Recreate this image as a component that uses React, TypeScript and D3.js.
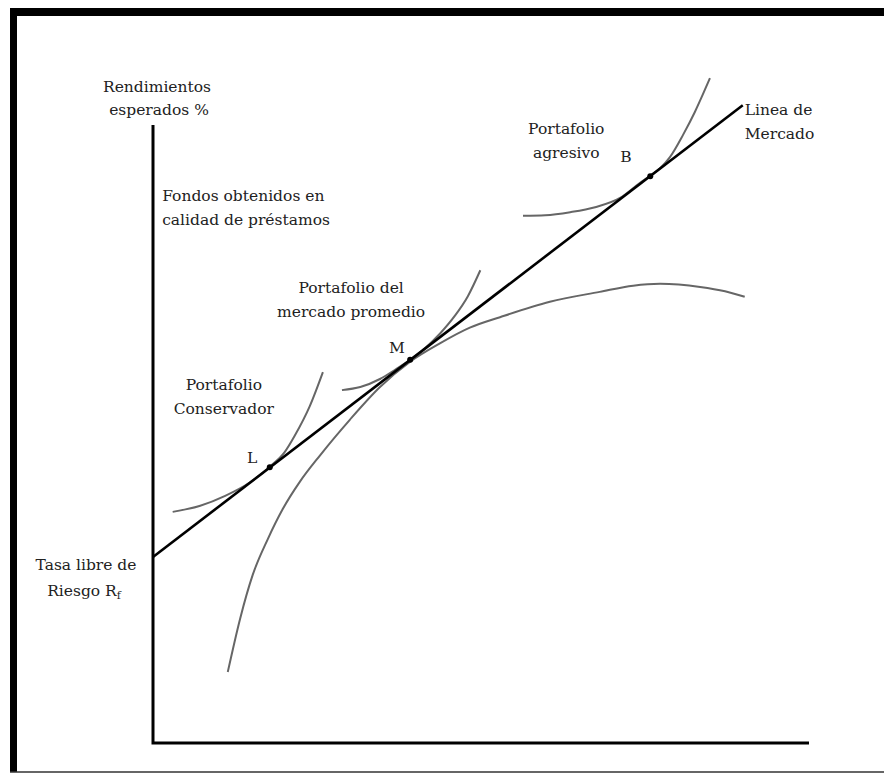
import * as d3 from 'd3'

// Línea de mercado de capitales: rendimiento esperado vs riesgo (unidades arbitrarias 0-100)
const marketLine: [number, number][] = [
  [0, 30.1],
  [89.9, 103.2],
]

// frontera eficiente (curva cóncava, tangente en M)
const frontier: [number, number][] = [
  [11.4, 11.5], [13.3, 20.2], [15.2, 27.2], [17.5, 33.0], [19.8, 37.9],
  [22.4, 42.3], [25.5, 46.6], [30.0, 52.3], [34.6, 57.6], [39.2, 61.7],
  [43.8, 64.7], [48.3, 67.2], [52.9, 68.9], [60.5, 71.4], [68.1, 73.0],
  [73.2, 74.0], [77.3, 74.3], [83.4, 73.8], [87.2, 73.1], [90.2, 72.2],
]

// curvas de indiferencia
const curveL: [number, number][] = [
  [3.0, 37.4], [7.2, 38.4], [11.0, 40.0], [14.8, 42.2], [17.8, 44.7],
  [20.1, 47.1], [21.6, 49.7], [23.9, 54.5], [25.9, 60.0],
]
const curveM: [number, number][] = [
  [28.8, 57.1], [31.6, 57.6], [34.6, 58.9], [36.9, 60.4], [39.2, 62.0],
  [41.5, 63.9], [43.8, 66.3], [46.0, 69.1], [48.0, 72.3], [49.9, 76.5],
]
const curveB: [number, number][] = [
  [56.4, 85.3], [59.8, 85.4], [63.6, 85.9], [67.4, 86.7], [71.2, 88.2],
  [74.2, 90.6], [75.8, 91.8], [77.3, 93.0], [78.8, 94.8], [80.8, 98.4],
  [82.6, 102.1], [83.8, 104.9], [84.9, 107.6],
]

// puntos de tangencia
const tangentPoints: { name: string; x: number; y: number }[] = [
  { name: 'L', x: 17.8, y: 44.6 },
  { name: 'M', x: 39.2, y: 62.0 },
  { name: 'B', x: 75.8, y: 91.7 },
]

// etiquetas (x, y en unidades del gráfico; anchor)
const labels: { lines: string[]; x: number; y: number; anchor: string }[] = [
  { lines: ['Fondos obtenidos en', 'calidad de préstamos'], x: 1.4, y: 87.7, anchor: 'start' },
  { lines: ['Portafolio', 'agresivo'], x: 63.0, y: 98.5, anchor: 'middle' },
  { lines: ['Linea de', 'Mercado'], x: 90.2, y: 101.6, anchor: 'start' },
  { lines: ['Portafolio del', 'mercado promedio'], x: 30.2, y: 72.8, anchor: 'middle' },
  { lines: ['Portafolio', 'Conservador'], x: 10.8, y: 57.1, anchor: 'middle' },
  { lines: ['L'], x: 15.1, y: 45.3, anchor: 'middle' },
  { lines: ['M'], x: 37.2, y: 63.1, anchor: 'middle' },
  { lines: ['B'], x: 72.1, y: 94.0, anchor: 'middle' },
]

const W = 884
const H = 774
const margin = { top: 125, right: 75, bottom: 31, left: 153 }
const font = '"DejaVu Serif", "Liberation Serif", serif'

export default function App() {
  const x = d3.scaleLinear().domain([0, 100]).range([margin.left, W - margin.right])
  const y = d3.scaleLinear().domain([0, 100]).range([H - margin.bottom, margin.top])

  const smooth = d3
    .line<[number, number]>()
    .x((d) => x(d[0]))
    .y((d) => y(d[1]))
    .curve(d3.curveMonotoneX)
  const straight = d3
    .line<[number, number]>()
    .x((d) => x(d[0]))
    .y((d) => y(d[1]))

  const x0 = x(0)
  const y0 = y(0)
  const yRf = y(marketLine[0][1])

  return (
    <svg
      width={W}
      height={H}
      style={{ position: 'absolute', left: 0, top: 0, background: '#fff' }}
      fontFamily={font}
      fontSize={15.5}
    >
      {/* marco */}
      <rect x={10} y={8} width={W - 10} height={8} fill="#000" />
      <rect x={10} y={8} width={7} height={764} fill="#000" />
      <line x1={10} x2={W} y1={772} y2={772} stroke="#333" strokeWidth={1.5} />

      {/* ejes */}
      <path
        d={`M${x0},${y(100)}V${y0}H${x(100)}`}
        fill="none"
        stroke="#000"
        strokeWidth={3}
      />

      {/* curvas */}
      {[frontier, curveL, curveM, curveB].map((c, i) => (
        <path key={i} d={smooth(c) ?? ''} fill="none" stroke="#666" strokeWidth={2} />
      ))}
      <path d={straight(marketLine) ?? ''} fill="none" stroke="#000" strokeWidth={2.6} />
      {tangentPoints.map((p) => (
        <circle key={p.name} cx={x(p.x)} cy={y(p.y)} r={3} fill="#000" />
      ))}

      {/* títulos del eje */}
      <g fill="#222" textAnchor="middle">
        <text x={x0 + 4} y={92}>Rendimientos</text>
        <text x={x0 + 6} y={115}>esperados %</text>
        <text x={x0 - 67} y={yRf + 13}>Tasa libre de</text>
        <text x={x0 - 69} y={yRf + 39}>
          Riesgo R<tspan fontSize={11} dy={3}>f</tspan>
        </text>
      </g>

      {/* etiquetas */}
      {labels.map((l, i) => (
        <text key={i} x={x(l.x)} y={y(l.y)} textAnchor={l.anchor} fill="#222">
          {l.lines.map((s, j) => (
            <tspan key={j} x={x(l.x)} dy={j === 0 ? 0 : 24}>
              {s}
            </tspan>
          ))}
        </text>
      ))}
    </svg>
  )
}
